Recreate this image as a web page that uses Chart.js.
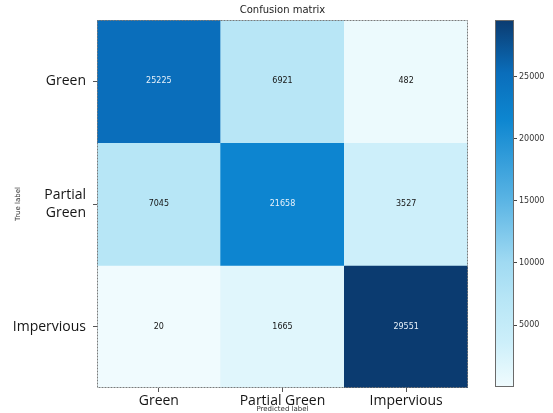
<!DOCTYPE html>
<html>
<head>
<meta charset="utf-8">
<script src="https://cdn.jsdelivr.net/npm/chart.js@4/dist/chart.umd.min.js"></script>
<style>
  html, body { margin: 0; padding: 0; background: #ffffff; }
  #wrap { position: relative; width: 553px; height: 413px; overflow: hidden; }
  #matrix { position: absolute; left: 0; top: 0; }
  #cbar { position: absolute; left: 480px; top: 0; }
</style>
</head>
<body>
<div id="wrap">
  <canvas id="matrix" width="553" height="413"></canvas>
  <canvas id="cbar" width="73" height="413"></canvas>
</div>
<script>
// Predicted classes (columns) and true classes (rows)
const predictedLabels = ['Green', 'Partial Green', 'Impervious'];
const trueLabels = [['Green'], ['Partial', 'Green'], ['Impervious']];

// Counts, one array per true class
const trueGreen = [25225, 6921, 482];
const truePartialGreen = [7045, 21658, 3527];
const trueImpervious = [20, 1665, 29551];

// Colour bar tick values
const colorbarTicks = [5000, 10000, 15000, 20000, 25000];

const rows = [trueGreen, truePartialGreen, trueImpervious];
const allValues = rows.flat();
const vmin = Math.min(...allValues);
const vmax = Math.max(...allValues);

// Blue colour ramp (fraction -> rgb)
const ramp = [
  [0.000, [240, 251, 254]],
  [0.056, [224, 246, 252]],
  [0.120, [205, 239, 250]],
  [0.235, [184, 230, 246]],
  [0.340, [160, 218, 242]],
  [0.510, [90, 180, 228]],
  [0.730, [13, 134, 208]],
  [0.855, [10, 110, 187]],
  [1.000, [11, 59, 112]]
];

function rampColor(t) {
  t = Math.max(0, Math.min(1, t));
  for (let i = 1; i < ramp.length; i++) {
    if (t <= ramp[i][0]) {
      const [t0, c0] = ramp[i - 1];
      const [t1, c1] = ramp[i];
      const f = (t - t0) / (t1 - t0);
      const c = c0.map((v, k) => Math.round(v + (c1[k] - v) * f));
      return `rgb(${c[0]},${c[1]},${c[2]})`;
    }
  }
  const c = ramp[ramp.length - 1][1];
  return `rgb(${c[0]},${c[1]},${c[2]})`;
}
const colorFor = v => rampColor((v - vmin) / (vmax - vmin));

// One floating-bar dataset per true class; each cell spans [row, row + 1]
const datasets = rows.map((vals, r) => ({
  label: trueLabels[r].join(' '),
  data: vals.map(() => [r, r + 1]),
  counts: vals,
  backgroundColor: vals.map(colorFor),
  borderWidth: 0,
  barPercentage: 1,
  categoryPercentage: 1,
  grouped: false
}));

// Writes each count in the middle of its cell and outlines the axes box
const cellText = {
  id: 'cellText',
  afterDatasetsDraw(chart) {
    const ctx = chart.ctx;
    ctx.save();
    ctx.font = '8px "DejaVu Sans"';
    ctx.textAlign = 'center';
    ctx.textBaseline = 'middle';
    chart.data.datasets.forEach((ds, di) => {
      chart.getDatasetMeta(di).data.forEach((bar, i) => {
        const v = ds.counts[i];
        const p = bar.getCenterPoint();
        ctx.fillStyle = v > vmax / 2 ? '#e8f2fa' : '#151515';
        ctx.fillText(String(v), p.x, p.y);
      });
    });
    const a = chart.chartArea;
    ctx.strokeStyle = '#7a7a7a';
    ctx.lineWidth = 1;
    ctx.setLineDash([2, 1]);
    ctx.strokeRect(a.left + 0.5, a.top + 0.5, a.right - a.left - 1, a.bottom - a.top - 1);
    ctx.restore();
  }
};

new Chart(document.getElementById('matrix'), {
  type: 'bar',
  data: { labels: predictedLabels, datasets },
  plugins: [cellText],
  options: {
    responsive: false,
    animation: false,
    devicePixelRatio: 1,
    layout: { padding: { left: 14, right: 85, top: 0, bottom: 0 } },
    plugins: {
      legend: { display: false },
      tooltip: { enabled: false },
      title: {
        display: true,
        text: 'Confusion matrix',
        fullSize: false,
        color: '#222222',
        font: { family: '"DejaVu Sans"', size: 10, weight: 'normal' },
        padding: { top: 4, bottom: 4 }
      }
    },
    scales: {
      x: {
        type: 'category',
        offset: true,
        grid: { display: true, drawOnChartArea: false, offset: false, tickLength: 4, color: '#555555' },
        border: { display: false },
        ticks: {
          color: '#151515',
          padding: 1,
          maxRotation: 0,
          font: { family: '"Open Sans"', size: 14 }
        },
        title: {
          display: true,
          text: 'Predicted label',
          color: '#333333',
          padding: 0,
          font: { family: '"DejaVu Sans"', size: 7 }
        },
        afterFit(scale) { scale.height = 25; }
      },
      y: {
        type: 'linear',
        min: 0,
        max: 3,
        reverse: true,
        afterBuildTicks(scale) {
          scale.ticks = trueLabels.map((_, i) => ({ value: i + 0.5 }));
        },
        grid: { display: true, drawOnChartArea: false, tickLength: 4, color: '#555555' },
        border: { display: false },
        ticks: {
          color: '#151515',
          padding: 7,
          font: { family: '"Open Sans"', size: 14, lineHeight: 1.3 },
          callback: v => trueLabels[Math.floor(v)]
        },
        title: {
          display: true,
          text: 'True label',
          color: '#333333',
          padding: 0,
          font: { family: '"DejaVu Sans"', size: 7 }
        },
        afterFit(scale) { scale.width = 83; }
      }
    }
  }
});

// Colour bar: a single floating bar from vmin to vmax filled with the ramp
const cbarFrame = {
  id: 'cbarFrame',
  afterDatasetsDraw(chart) {
    const ctx = chart.ctx;
    const a = chart.chartArea;
    ctx.save();
    ctx.strokeStyle = '#6a6a6a';
    ctx.lineWidth = 1;
    ctx.strokeRect(a.left + 0.5, a.top + 0.5, a.right - a.left - 1, a.bottom - a.top - 1);
    ctx.restore();
  }
};

new Chart(document.getElementById('cbar'), {
  type: 'bar',
  data: {
    labels: [''],
    datasets: [{
      data: [[vmin, vmax]],
      borderWidth: 0,
      barPercentage: 1,
      categoryPercentage: 1,
      backgroundColor(c) {
        const chart = c.chart;
        const y = chart.scales.y;
        if (!chart.chartArea || !y) return '#7fbfe6';
        const g = chart.ctx.createLinearGradient(0, y.getPixelForValue(vmin), 0, y.getPixelForValue(vmax));
        ramp.forEach(([t, col]) => g.addColorStop(t, `rgb(${col[0]},${col[1]},${col[2]})`));
        return g;
      }
    }]
  },
  plugins: [cbarFrame],
  options: {
    responsive: false,
    animation: false,
    devicePixelRatio: 1,
    layout: { padding: { left: 15, right: 0, top: 20, bottom: 26 } },
    plugins: { legend: { display: false }, tooltip: { enabled: false } },
    scales: {
      x: { display: false },
      y: {
        position: 'right',
        min: vmin,
        max: vmax,
        afterBuildTicks(scale) {
          scale.ticks = colorbarTicks.map(v => ({ value: v }));
        },
        grid: { display: true, drawOnChartArea: false, tickLength: 3, color: '#444444' },
        border: { display: false },
        ticks: {
          color: '#333333',
          padding: 2,
          font: { family: '"DejaVu Sans"', size: 8 },
          callback: v => String(v)
        },
        afterFit(scale) { scale.width = 39; }
      }
    }
  }
});
</script>
</body>
</html>
